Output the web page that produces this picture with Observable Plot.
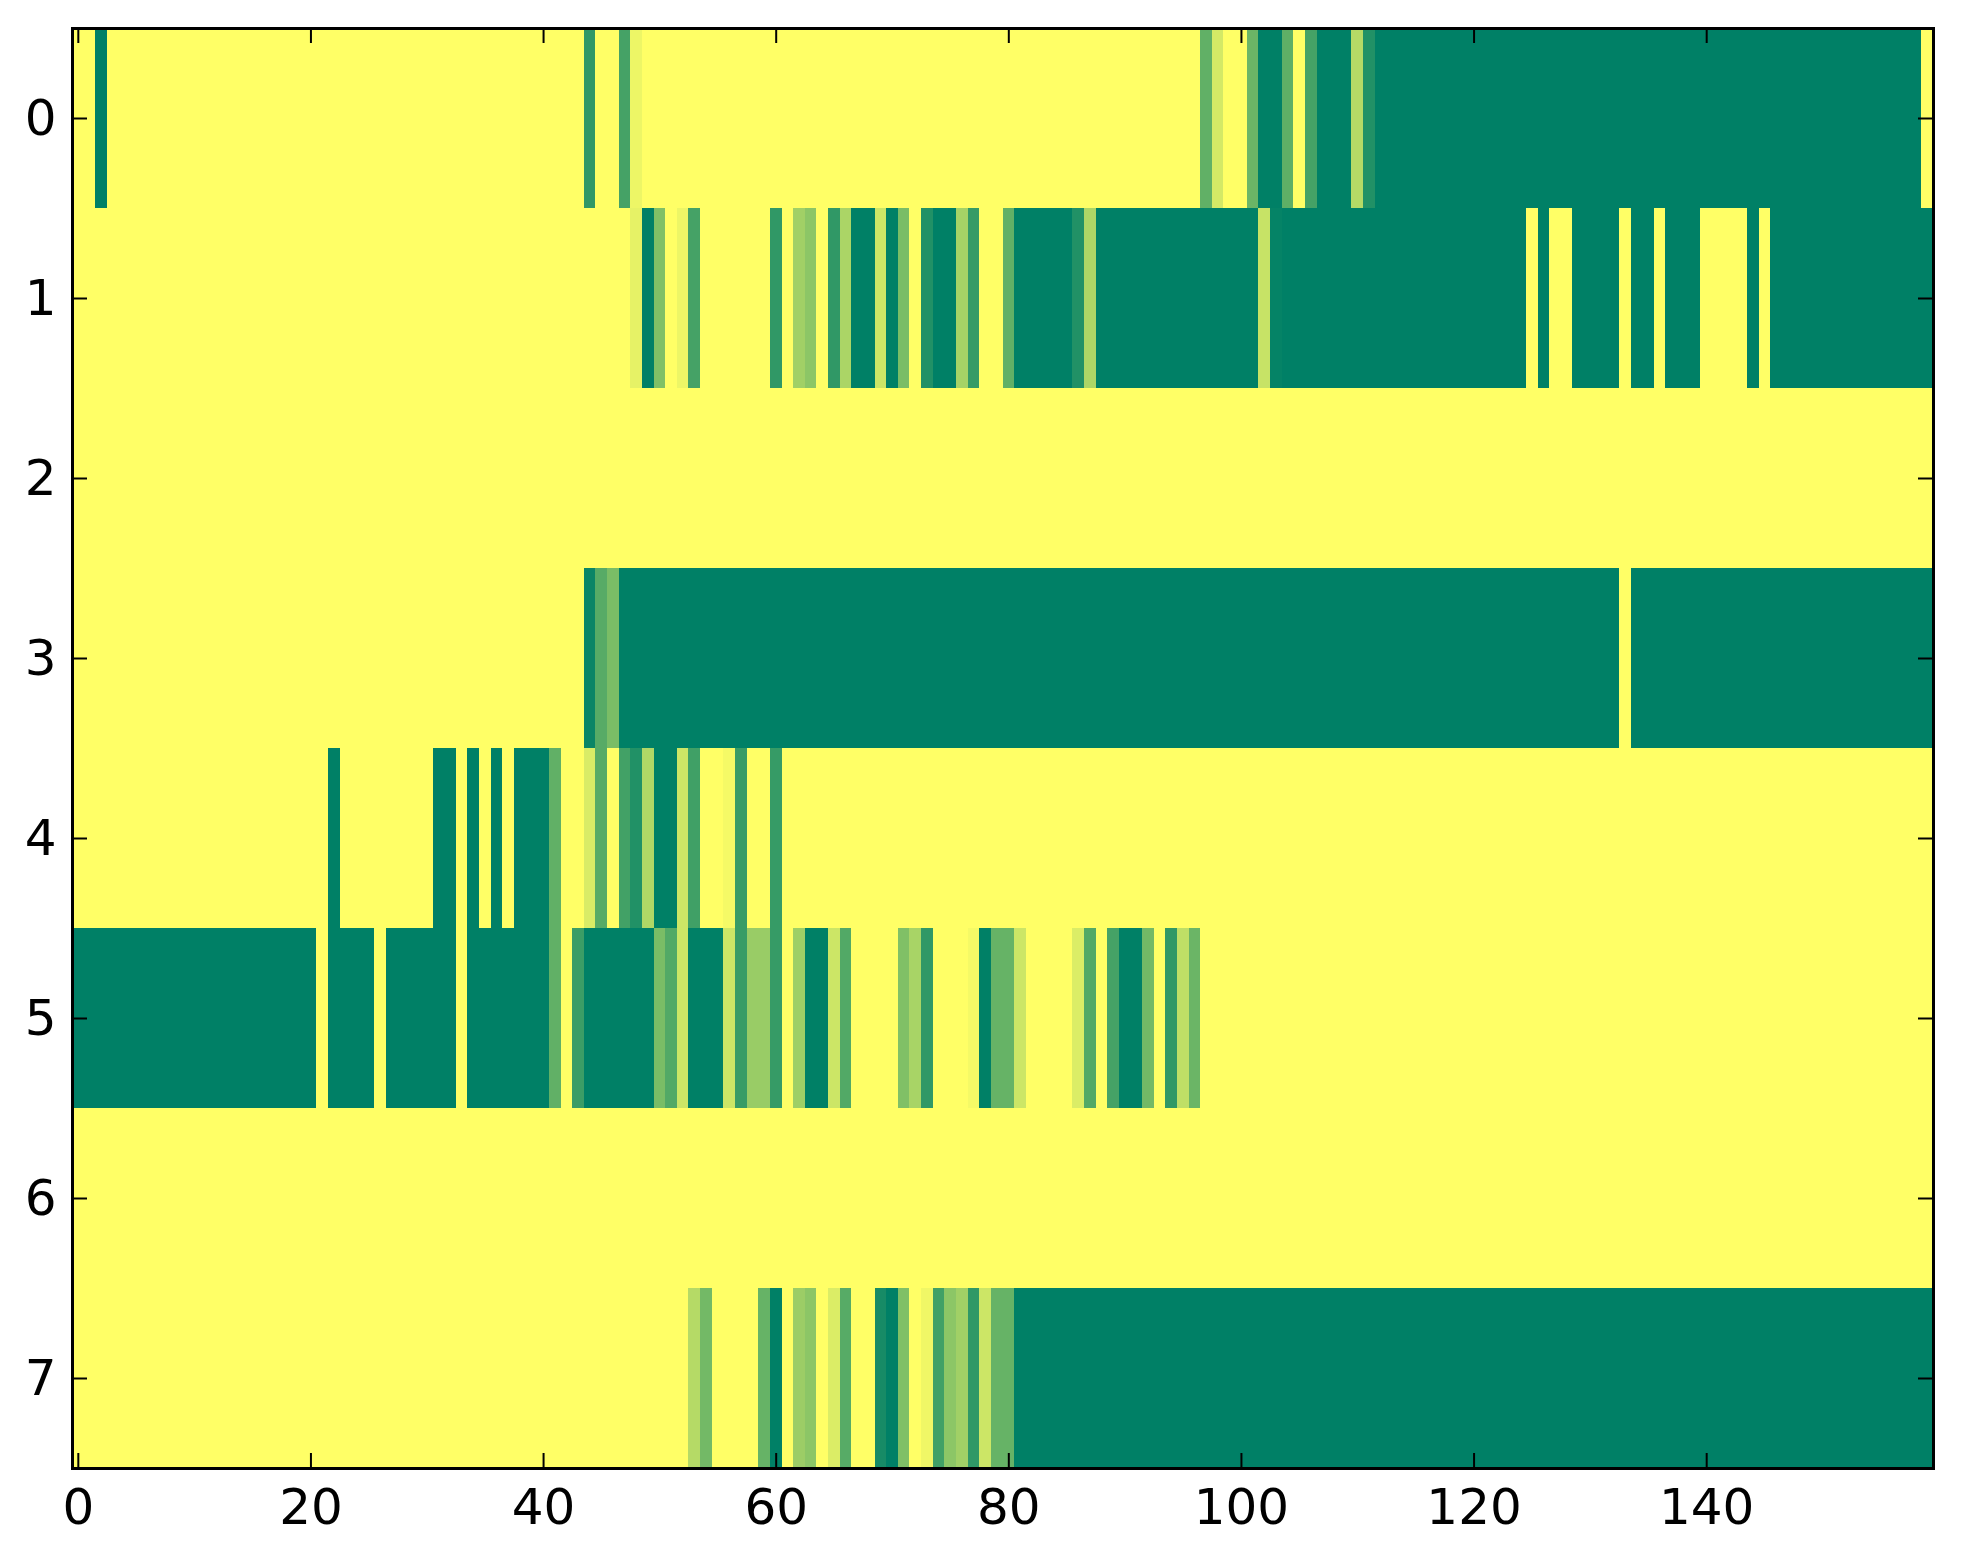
<!DOCTYPE html>
<html>
<head>
<meta charset="utf-8">
<script src="https://cdn.jsdelivr.net/npm/d3@7"></script>
<script src="https://cdn.jsdelivr.net/npm/@observablehq/plot@0.6"></script>
<style>
  html, body { margin: 0; padding: 0; background: #fff; }
  #chart { width: 1963px; height: 1564px; }
</style>
</head>
<body>
<div id="chart"></div>
<script>
// Values per row (0 = dark green, 1 = yellow), columns 0..159
const row0 = [
  1,1,0,1,1,1,1,1,1,1,
  1,1,1,1,1,1,1,1,1,1,
  1,1,1,1,1,1,1,1,1,1,
  1,1,1,1,1,1,1,1,1,1,
  1,1,1,1,.19,1,1,.27,.93,1,
  1,1,1,1,1,1,1,1,1,1,
  1,1,1,1,1,1,1,1,1,1,
  1,1,1,1,1,1,1,1,1,1,
  1,1,1,1,1,1,1,1,1,1,
  1,1,1,1,1,1,1,.38,.83,1,
  1,.42,0,0,.37,1,.27,0,0,0,
  .71,.13,0,0,0,0,0,0,0,0,
  0,0,0,0,0,0,0,0,0,0,
  0,0,0,0,0,0,0,0,0,0,
  0,0,0,0,0,0,0,0,0,0,
  0,0,0,0,0,0,0,0,0,1
];
const row1 = [
  1,1,1,1,1,1,1,1,1,1,
  1,1,1,1,1,1,1,1,1,1,
  1,1,1,1,1,1,1,1,1,1,
  1,1,1,1,1,1,1,1,1,1,
  1,1,1,1,1,1,1,1,.9,0,
  .5,1,.93,.27,1,1,1,1,1,1,
  .19,1,.63,.55,1,.19,.67,0,0,.8,
  0,.48,1,.13,0,0,.65,.21,1,1,
  .38,0,0,0,0,0,.13,.68,0,0,
  0,0,0,0,0,0,0,0,0,0,
  0,0,.78,.02,0,0,0,0,0,0,
  0,0,0,0,0,0,0,0,0,0,
  0,0,0,0,0,1,0,1,1,0,
  0,0,0,1,0,0,1,0,0,0,
  1,1,1,1,0,1,0,0,0,0,
  0,0,0,0,0,0,0,0,0,0
];
const row2 = [
  1,1,1,1,1,1,1,1,1,1,
  1,1,1,1,1,1,1,1,1,1,
  1,1,1,1,1,1,1,1,1,1,
  1,1,1,1,1,1,1,1,1,1,
  1,1,1,1,1,1,1,1,1,1,
  1,1,1,1,1,1,1,1,1,1,
  1,1,1,1,1,1,1,1,1,1,
  1,1,1,1,1,1,1,1,1,1,
  1,1,1,1,1,1,1,1,1,1,
  1,1,1,1,1,1,1,1,1,1,
  1,1,1,1,1,1,1,1,1,1,
  1,1,1,1,1,1,1,1,1,1,
  1,1,1,1,1,1,1,1,1,1,
  1,1,1,1,1,1,1,1,1,1,
  1,1,1,1,1,1,1,1,1,1,
  1,1,1,1,1,1,1,1,1,1
];
const row3 = [
  1,1,1,1,1,1,1,1,1,1,
  1,1,1,1,1,1,1,1,1,1,
  1,1,1,1,1,1,1,1,1,1,
  1,1,1,1,1,1,1,1,1,1,
  1,1,1,1,.04,.34,.48,0,0,0,
  0,0,0,0,0,0,0,0,0,0,
  0,0,0,0,0,0,0,0,0,0,
  0,0,0,0,0,0,0,0,0,0,
  0,0,0,0,0,0,0,0,0,0,
  0,0,0,0,0,0,0,0,0,0,
  0,0,0,0,0,0,0,0,0,0,
  0,0,0,0,0,0,0,0,0,0,
  0,0,0,0,0,0,0,0,0,0,
  0,0,0,1,0,0,0,0,0,0,
  0,0,0,0,0,0,0,0,0,0,
  0,0,0,0,0,0,0,0,0,0
];
const row4 = [
  1,1,1,1,1,1,1,1,1,1,
  1,1,1,1,1,1,1,1,1,1,
  1,1,0,1,1,1,1,1,1,1,
  1,0,0,1,0,1,0,1,0,0,
  0,.38,1,1,.85,.34,1,.26,.13,.69,
  0,0,.8,.25,1,1,.96,.22,1,1,
  .21,1,1,1,1,1,1,1,1,1,
  1,1,1,1,1,1,1,1,1,1,
  1,1,1,1,1,1,1,1,1,1,
  1,1,1,1,1,1,1,1,1,1,
  1,1,1,1,1,1,1,1,1,1,
  1,1,1,1,1,1,1,1,1,1,
  1,1,1,1,1,1,1,1,1,1,
  1,1,1,1,1,1,1,1,1,1,
  1,1,1,1,1,1,1,1,1,1,
  1,1,1,1,1,1,1,1,1,1
];
const row5 = [
  0,0,0,0,0,0,0,0,0,0,
  0,0,0,0,0,0,0,0,0,0,
  0,1,0,0,0,0,1,0,0,0,
  0,0,0,1,0,0,0,0,0,0,
  0,.38,1,.23,0,0,0,0,0,0,
  .48,.32,.8,0,0,0,.8,.22,.6,.6,
  .21,1,.62,0,0,.8,.32,1,1,1,
  1,.5,.66,.19,1,1,1,.96,0,.4,
  .4,.8,1,1,1,1,.86,.32,1,.27,
  0,0,.45,1,.19,.75,.42,1,1,1,
  1,1,1,1,1,1,1,1,1,1,
  1,1,1,1,1,1,1,1,1,1,
  1,1,1,1,1,1,1,1,1,1,
  1,1,1,1,1,1,1,1,1,1,
  1,1,1,1,1,1,1,1,1,1,
  1,1,1,1,1,1,1,1,1,1
];
const row6 = [
  1,1,1,1,1,1,1,1,1,1,
  1,1,1,1,1,1,1,1,1,1,
  1,1,1,1,1,1,1,1,1,1,
  1,1,1,1,1,1,1,1,1,1,
  1,1,1,1,1,1,1,1,1,1,
  1,1,1,1,1,1,1,1,1,1,
  1,1,1,1,1,1,1,1,1,1,
  1,1,1,1,1,1,1,1,1,1,
  1,1,1,1,1,1,1,1,1,1,
  1,1,1,1,1,1,1,1,1,1,
  1,1,1,1,1,1,1,1,1,1,
  1,1,1,1,1,1,1,1,1,1,
  1,1,1,1,1,1,1,1,1,1,
  1,1,1,1,1,1,1,1,1,1,
  1,1,1,1,1,1,1,1,1,1,
  1,1,1,1,1,1,1,1,1,1
];
const row7 = [
  1,1,1,1,1,1,1,1,1,1,
  1,1,1,1,1,1,1,1,1,1,
  1,1,1,1,1,1,1,1,1,1,
  1,1,1,1,1,1,1,1,1,1,
  1,1,1,1,1,1,1,1,1,1,
  1,1,1,.71,.45,1,1,1,1,.4,
  0,1,.61,.55,1,.86,.34,1,1,.09,
  0,.5,1,.94,.25,.55,.63,.19,.8,.4,
  .4,0,0,0,0,0,0,0,0,0,
  0,0,0,0,0,0,0,0,0,0,
  0,0,0,0,0,0,0,0,0,0,
  0,0,0,0,0,0,0,0,0,0,
  0,0,0,0,0,0,0,0,0,0,
  0,0,0,0,0,0,0,0,0,0,
  0,0,0,0,0,0,0,0,0,0,
  0,0,0,0,0,0,0,0,0,0
];
const xTicks = [0, 20, 40, 60, 80, 100, 120, 140];
const yTicks = [0, 1, 2, 3, 4, 5, 6, 7];

const rows = [row0, row1, row2, row3, row4, row5, row6, row7];
const cells = rows.flatMap((vals, r) => vals.map((v, c) => ({r, c, v})));

const W = 1963, H = 1564;
const mL = 72, mR = 30, mT = 28, mB = 96;
const innerW = W - mL - mR, innerH = H - mT - mB;
const tickLen = 15;

const chart = Plot.plot({
  width: W,
  height: H,
  marginLeft: mL,
  marginRight: mR,
  marginTop: mT,
  marginBottom: mB,
  style: {fontFamily: "DejaVu Sans", background: "#fff", color: "#000", overflow: "visible"},
  x: {domain: [-0.5, 159.5], axis: null},
  y: {domain: [-0.5, 7.5], reverse: true, axis: null},
  color: {type: "linear", domain: [0, 1], range: ["rgb(0,128,102)", "rgb(255,255,102)"], interpolate: "rgb"},
  marks: [
    Plot.rect(cells, {
      x1: d => d.c - 0.5, x2: d => d.c + 0.5,
      y1: d => d.r - 0.5, y2: d => d.r + 0.5,
      fill: "v", shapeRendering: "crispEdges"
    }),
    Plot.tickX(xTicks, {x: d => d, insetBottom: innerH - tickLen, stroke: "#000", strokeWidth: 2}),
    Plot.tickX(xTicks, {x: d => d, insetTop: innerH - tickLen, stroke: "#000", strokeWidth: 2}),
    Plot.tickY(yTicks, {y: d => d, insetRight: innerW - tickLen, stroke: "#000", strokeWidth: 2}),
    Plot.tickY(yTicks, {y: d => d, insetLeft: innerW - tickLen, stroke: "#000", strokeWidth: 2}),
    Plot.frame({stroke: "#000", strokeWidth: 3}),
    Plot.axisX(xTicks, {tickSize: 0, tickPadding: 20, fontSize: 50, label: null, fill: "#000", tickFormat: d => String(d)}),
    Plot.axisY(yTicks, {tickSize: 0, tickPadding: 16, fontSize: 50, label: null, fill: "#000", tickFormat: d => String(d)})
  ]
});
document.getElementById("chart").appendChild(chart);
</script>
</body>
</html>
